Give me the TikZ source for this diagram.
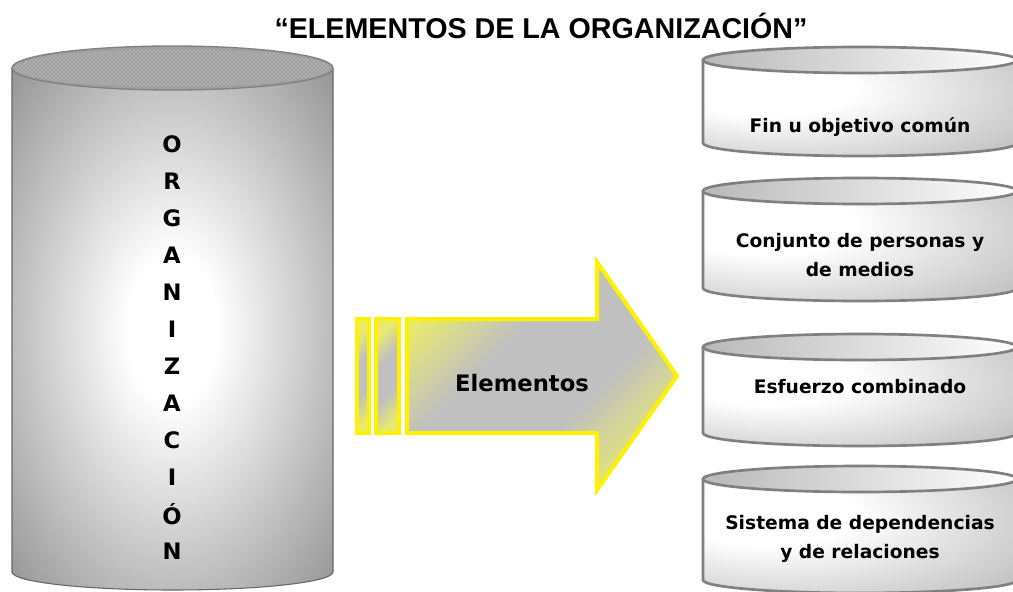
\documentclass[tikz,border=0pt]{standalone}
\usepackage{fontspec}
\setmainfont{DejaVu Sans}
\newfontfamily\titlefont{Liberation Sans}
\usetikzlibrary{patterns}

\definecolor{arrowyellow}{HTML}{E8E872}
\definecolor{silver}{HTML}{C0C0C0}

\pgfdeclareradialshading{orgglow}{\pgfpointorigin}{color(0bp)=(white); color(7bp)=(white); color(36bp)=(gray!85); color(52bp)=(gray!105!black); color(80bp)=(gray!105!black)}
\pgfdeclareradialshading{drumglow}{\pgfpoint{-18bp}{12bp}}{color(0bp)=(white); color(14bp)=(white); color(58bp)=(gray!75); color(80bp)=(gray!75)}
\pgfdeclarehorizontalshading{arrowsheen}{100bp}{color(0bp)=(arrowyellow); color(25bp)=(arrowyellow); color(40bp)=(silver); color(60bp)=(silver); color(76bp)=(arrowyellow); color(100bp)=(arrowyellow)}

\tikzset{
    orgletter/.style={font=\bfseries\fontsize{17}{17}\selectfont},
    arrowshape/.style={draw=yellow, line width=3pt, line join=miter, shading=arrowsheen, shading angle=-45},
    drumrim/.style={draw=gray, line width=2pt},
    drumtext/.style={align=center, font=\bfseries\fontsize{14}{22}\selectfont}
}

\begin{document}
\begin{tikzpicture}[x=0.75pt, y=0.75pt]
    \useasboundingbox (0,0) rectangle (1013,-592);

    \node [anchor=base] (title) at (541,-39) {\titlefont\bfseries\fontsize{21.5}{26}\selectfont “ELEMENTOS DE LA ORGANIZACIÓN”};

    % big cylinder
    \shade [shading=orgglow] (12,-68) -- (12,-572) arc [start angle=180, end angle=360, x radius=160.5, y radius=18] -- (333,-68) -- cycle;
    \draw [gray!80!black, line width=0.8pt] (12,-68) -- (12,-572) arc [start angle=180, end angle=360, x radius=160.5, y radius=18] -- (333,-68);
    \fill [gray!75] (172.5,-68) ellipse [x radius=160.5, y radius=22];
    \fill [pattern=crosshatch dots, pattern color=white!80!gray] (172.5,-68) ellipse [x radius=157, y radius=19];
    \draw [gray, line width=1pt] (172.5,-68) ellipse [x radius=160.5, y radius=22];

    \foreach \c [count=\i] in {O,R,G,A,N,I,Z,A,C,I,Ó,N}
        { \node [orgletter] (l\i) at (172, {-144-37*(\i-1)}) {\c}; }

    % arrow
    \shade [arrowshape] (357,-319) rectangle (369,-433);
    \shade [arrowshape] (376,-319) rectangle (399,-433);
    \shade [arrowshape] (407,-319) -- (597,-319) -- (597,-262) -- (677,-376)
        -- (597,-490) -- (597,-433) -- (407,-433) -- cycle;
    \node [font=\bfseries\fontsize{17}{17}\selectfont] (elementos) at (522,-383) {Elementos};

    % small cylinders
    \foreach \yt/\yb in {60/143, 191/288, 347/433, 479/580}
        { \shade [shading=drumglow] (703,-\yt) -- (703,-\yb) arc [start angle=180, end angle=360, x radius=157, y radius=13] -- (1017,-\yt) -- cycle;
          \draw [drumrim] (703,-\yt) -- (703,-\yb) arc [start angle=180, end angle=360, x radius=157, y radius=13] -- (1017,-\yt);
          \shade [left color=gray!55, right color=white, drumrim] (860,-\yt) ellipse [x radius=157, y radius=13]; }

    \node [drumtext] (fin) at (860,-127) {Fin u objetivo común};
    \node [drumtext] (conjunto) at (860,-255) {Conjunto de personas y\\de medios};
    \node [drumtext] (esfuerzo) at (860,-387) {Esfuerzo combinado};
    \node [drumtext] (sistema) at (860,-539) {Sistema de dependencias\\y de relaciones};

\end{tikzpicture}
\end{document}
